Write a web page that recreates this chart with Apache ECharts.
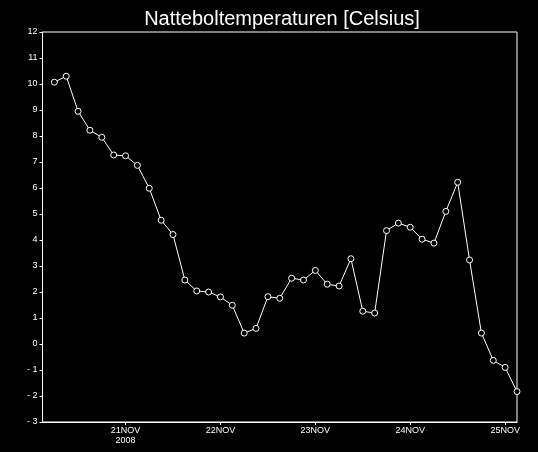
<!DOCTYPE html>
<html><head><meta charset="utf-8">
<script src="https://cdn.jsdelivr.net/npm/echarts@6/dist/echarts.min.js"></script>
<style>html,body{margin:0;padding:0;background:#000;}#c{width:538px;height:452px;}</style>
</head><body><div id="c"></div>
<script>
// Hours since 2008-11-20 00:00 (3-hourly)
const hours = [6,9,12,15,18,21,24,27,30,33,36,39,42,45,48,51,54,57,60,63,66,69,72,75,78,81,84,87,90,93,96,99,102,105,108,111,114,117,120,123];
const temps = [10.07,10.30,8.95,8.22,7.95,7.27,7.24,6.87,5.99,4.76,4.21,2.46,2.04,2.00,1.81,1.49,0.42,0.60,1.82,1.76,2.53,2.46,2.83,2.30,2.23,3.28,1.26,1.19,4.36,4.65,4.49,4.03,3.88,5.10,6.22,3.23,0.42,-0.63,-0.90,-1.83];
const xTickHours = [24,48,72,96,120];
const xTickLabels = ['21NOV\n2008','22NOV','23NOV','24NOV','25NOV'];
const titleText = 'Natteboltemperaturen [Celsius]';

const chart = echarts.init(document.getElementById('c'), null, {renderer:'canvas'});
chart.setOption({
  backgroundColor:'#000',
  animation:false,
  title:{text:titleText,left:277,textAlign:'center',top:4,
    textStyle:{color:'#fff',fontFamily:'Liberation Sans',fontWeight:'normal',fontSize:20}},
  grid:{left:42.5,right:21,top:32,bottom:30,show:true,borderColor:'#fff',borderWidth:1},
  xAxis:{type:'value',min:3,max:123,
    axisLine:{show:true,onZero:false,lineStyle:{color:'#fff',width:1}},
    axisTick:{show:true,length:3,customValues:xTickHours,lineStyle:{color:'#fff'}},
    axisLabel:{customValues:xTickHours,color:'#fff',fontFamily:'Liberation Sans',fontSize:9,margin:4,lineHeight:10,
      formatter:function(v){const i=xTickHours.indexOf(v);return i>=0?xTickLabels[i]:'';}},
    splitLine:{show:false}},
  yAxis:{type:'value',min:-3,max:12,interval:1,
    axisLine:{show:true,onZero:false,lineStyle:{color:'#fff',width:1}},
    axisTick:{show:true,length:3,lineStyle:{color:'#fff'}},
    axisLabel:{color:'#fff',fontFamily:'Liberation Sans',fontSize:9,margin:5,
      formatter:function(v){return v<0?'- '+Math.abs(v):String(v);}},
    splitLine:{show:false}},
  series:[{type:'line',data:hours.map((h,i)=>[h,temps[i]]),
    symbol:'circle',symbolSize:6,showAllSymbol:true,
    lineStyle:{color:'#fff',width:1},
    itemStyle:{color:'#000',borderColor:'#fff',borderWidth:1},
    clip:false}]
});
</script></body></html>
